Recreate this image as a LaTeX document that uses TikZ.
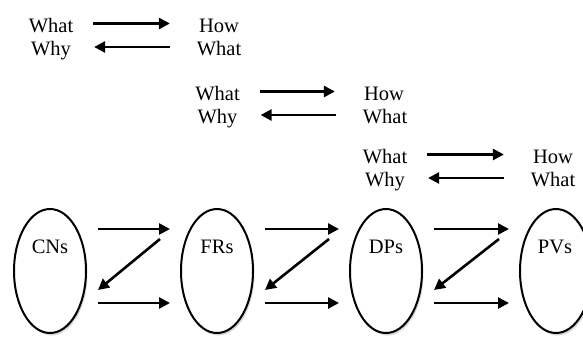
\documentclass[tikz,border=0pt]{standalone}
\usepackage{fontspec}
\setmainfont{Liberation Serif}
\usetikzlibrary{arrows.meta,shapes.geometric,shadows}
\begin{document}
\begin{tikzpicture}[x=1pt,y=-1pt,
  txt/.style={anchor=base,inner sep=0pt,font=\fontsize{20.5}{24}\selectfont},
  dombox/.style={ellipse,draw,line width=2pt,minimum width=72pt,minimum height=124pt,inner sep=0pt,fill=white,
    drop shadow={opacity=0.3,shadow xshift=1.5pt,shadow yshift=-2.5pt}},
  arr/.style={line width=2.6pt,-{Triangle[length=11pt,width=11pt]}}]
\useasboundingbox (0,0) rectangle (583,340);
% top rows of text
\node[txt] (w1) at (51,32) {What};
\node[txt] (y1) at (51,55) {Why};
\node[txt] (h1) at (219,32) {How};
\node[txt] (v1) at (219,55) {What};
\node[txt] (w2) at (217.5,100) {What};
\node[txt] (y2) at (217.5,123) {Why};
\node[txt] (h2) at (384,100) {How};
\node[txt] (v2) at (385,123) {What};
\node[txt] (w3) at (385,163) {What};
\node[txt] (y3) at (385,186) {Why};
\node[txt] (h3) at (553,163) {How};
\node[txt] (v3) at (553,186) {What};
\foreach \a/\b/\c/\d in {w1/h1/y1/v1,w2/h2/y2/v2,w3/h3/y3/v3}{
  \draw[arr] ([xshift=20pt,yshift=8.5pt]\a.base east) -- ([xshift=-29pt,yshift=8.5pt]\b.base west);
  \draw[arr] ([xshift=-27pt,yshift=8pt]\d.base west) -- ([xshift=23pt,yshift=8pt]\c.base east);
}
% domains
\node[dombox] (cn) at (50,271) {};
\node[dombox] (fr) at (217,271) {};
\node[dombox] (dp) at (386,271) {};
\node[dombox] (pv) at (556,271) {};
\node[txt] (cnl) at (50,253) {CNs};
\node[txt] (frl) at (217,253) {FRs};
\node[txt] (dpl) at (386,253) {DPs};
\node[txt] (pvl) at (555,253) {PVs};
\foreach \a/\b in {cn/fr,fr/dp,dp/pv}{
  \draw[arr] ([xshift=11pt,yshift=42pt]\a.east) -- ([xshift=-10pt,yshift=42pt]\b.west);
  \draw[arr] ([xshift=11pt,yshift=-32pt]\a.east) -- ([xshift=-10pt,yshift=-32pt]\b.west);
  \draw[arr] ([xshift=-20pt,yshift=32pt]\b.west) -- ([xshift=11pt,yshift=-19pt]\a.east);
}
\end{tikzpicture}
\end{document}
